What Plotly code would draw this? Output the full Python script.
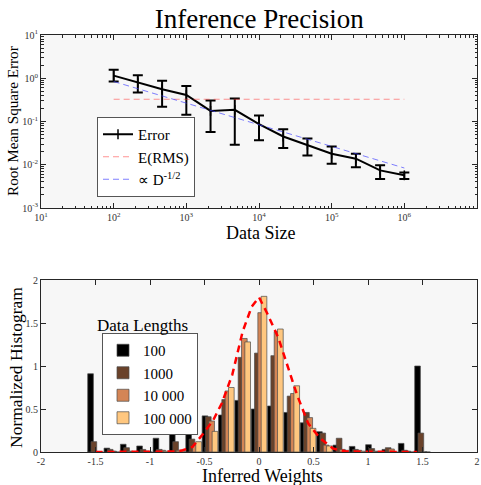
import plotly.graph_objects as go

# ---------------- Top panel data ----------------
data_size = [100, 215, 464, 1000, 2154, 4642, 10000, 21544, 46416,
             100000, 215443, 464159, 1000000]
rmse = [1.15, 0.79, 0.557, 0.41, 0.176, 0.186, 0.087, 0.045, 0.029,
        0.018, 0.0138, 0.0074, 0.0057]
rmse_hi = [1.58, 1.17, 0.87, 0.665, 0.305, 0.34, 0.138, 0.0665, 0.0407,
           0.0265, 0.018, 0.0097, 0.0066]
rmse_lo = [0.84, 0.47, 0.22, 0.143, 0.057, 0.029, 0.037, 0.0243, 0.0164,
           0.0105, 0.0087, 0.0047, 0.0047]
erms_x = [100, 1000000]
erms_y = [0.327, 0.327]
scaling_x = [100, 1000000]
scaling_y = [0.84, 0.0084]
log_tickvals = [10, 100, 1000, 10000, 100000, 1000000, 10000000]
log_ticktext = ["10<sup>1</sup>", "10<sup>2</sup>", "10<sup>3</sup>", "10<sup>4</sup>",
                "10<sup>5</sup>", "10<sup>6</sup>", "10<sup>7</sup>"]
ylog_tickvals = [0.001, 0.01, 0.1, 1, 10]
ylog_ticktext = ["10<sup>-3</sup>", "10<sup>-2</sup>", "10<sup>-1</sup>",
                 "10<sup>0</sup>", "10<sup>1</sup>"]

# ---------------- Bottom panel data ----------------
bin_centers = [-1.5, -1.35, -1.2, -1.05, -0.9, -0.75, -0.6, -0.45, -0.3, -0.15, 0.0,
               0.15, 0.3, 0.45, 0.6, 0.75, 0.9, 1.05, 1.2, 1.35, 1.5]
h_100 = [0.91, 0.045, 0.09, 0.07, 0.16, 0.26, 0.35, 0.42, 0.43, 0.60, 0.50,
         0.535, 0.46, 0.34, 0.236, 0.08, 0.065, 0.085, 0.03, 0.10, 1.00]
h_1000 = [0.12, 0.03, 0.05, 0.03, 0.03, 0.12, 0.15, 0.41, 0.61, 1.10, 1.15,
          1.12, 0.65, 0.46, 0.22, 0.16, 0.03, 0.04, 0.05, 0.02, 0.22]
h_10000 = [0.0, 0.01, 0.01, 0.01, 0.02, 0.02, 0.08, 0.36, 0.71, 1.32, 1.62,
           1.40, 0.68, 0.40, 0.08, 0.03, 0.02, 0.01, 0.035, 0.01, 0.0]
h_100000 = [0.0, 0.0, 0.0, 0.0, 0.01, 0.01, 0.12, 0.24, 0.75, 1.28, 1.81,
            1.43, 0.77, 0.275, 0.07, 0.02, 0.01, 0.0, 0.0, 0.0, 0.0]
series_names = ["100", "1000", "10 000", "100 000"]
series_colors = ["#000000", "#6a422a", "#d48555", "#ffc77f"]

curve_x = [-1.5, -0.9, -0.75, -0.7, -0.61, -0.52, -0.42, -0.34, -0.245, -0.15,
           -0.067, 0.0, 0.076, 0.177, 0.278, 0.35, 0.452, 0.56, 0.68, 0.8, 1.45]
curve_y = [0.0, 0.0, 0.005, 0.02, 0.06, 0.2, 0.37, 0.57, 0.9, 1.40,
           1.69, 1.80, 1.61, 1.33, 0.95, 0.66, 0.33, 0.16, 0.04, 0.005, 0.0]

FONT = "Liberation Serif"
AXC = "#262626"
ML, MR, MT, MB = 41, 4, 35, 33
W, H = 481, 485
PW, PH = W - ML - MR, H - MT - MB

BAR_W = 0.052
BAR_STEP = 0.0305
bar_offsets = [-0.0715 + i * BAR_STEP for i in range(4)]


def px(xp):
    return (xp - ML) / PW


def py(yp):
    return 1 - (yp - MT) / PH


fig = go.Figure()

# ---- top traces ----
fig.add_trace(go.Scatter(
    x=data_size, y=rmse, mode="lines+markers", name="Error",
    line=dict(color="black", width=2),
    marker=dict(symbol="line-ns", size=7, line=dict(width=1.5, color="black"), color="black"),
    error_y=dict(type="data", symmetric=False,
                 array=[h - v for h, v in zip(rmse_hi, rmse)],
                 arrayminus=[v - l for v, l in zip(rmse, rmse_lo)],
                 color="black", thickness=2, width=5),
    xaxis="x", yaxis="y", legend="legend"))
fig.add_trace(go.Scatter(
    x=erms_x, y=erms_y, mode="lines", name="E(RMS)",
    line=dict(color="rgba(255,60,60,0.55)", width=1, dash="6px,4px"),
    xaxis="x", yaxis="y", legend="legend"))
fig.add_trace(go.Scatter(
    x=scaling_x, y=scaling_y, mode="lines", name="\u221d D<sup>-1/2</sup>",
    line=dict(color="rgba(60,60,255,0.65)", width=1, dash="6px,4px"),
    xaxis="x", yaxis="y", legend="legend"))

# ---- bottom traces ----
for name, col, vals, off in zip(series_names, series_colors,
                                [h_100, h_1000, h_10000, h_100000], bar_offsets):
    fig.add_trace(go.Bar(
        x=bin_centers, y=vals, name=name, width=BAR_W, offset=off,
        marker=dict(color=col, line=dict(color="#4a4a4a", width=0.7)),
        xaxis="x2", yaxis="y2", legend="legend2"))
fig.add_trace(go.Scatter(
    x=curve_x, y=curve_y, mode="lines", showlegend=False,
    line=dict(color="#ff0000", width=2.5, dash="7px,5px"),
    xaxis="x2", yaxis="y2"))

common_axis = dict(showline=True, linecolor=AXC, linewidth=1, mirror="allticks",
                   ticks="inside", ticklen=5, tickcolor=AXC, showgrid=False,
                   zeroline=False, automargin=False,
                   tickfont=dict(family=FONT, size=10, color="#333"))


def ann(text, x, y, size, angle=0):
    return dict(text=text, x=px(x), y=py(y), xref="paper", yref="paper",
                xanchor="center", yanchor="middle", showarrow=False, textangle=angle,
                font=dict(family=FONT, size=size, color="black"))


fig.update_layout(
    width=W, height=H,
    margin=dict(l=ML, r=MR, t=MT, b=MB),
    paper_bgcolor="white", plot_bgcolor="#f7f7f7",
    font=dict(family=FONT, color="black"),
    barmode="overlay",
    title=dict(text="Inference Precision", x=0.539, xanchor="center",
               y=1 - 19 / H, yanchor="middle", yref="container",
               font=dict(family=FONT, size=27, color="black")),
    xaxis=dict(common_axis, type="log", range=[1, 7], domain=[0, 1], anchor="y",
               tickvals=log_tickvals, ticktext=log_ticktext,
               minor=dict(ticks="inside", ticklen=2.5, tickcolor=AXC,
                          tickvals=[m * 10 ** e for e in range(1, 7) for m in range(2, 10)])),
    yaxis=dict(common_axis, type="log", range=[-3, 1], domain=[py(208), 1], anchor="x",
               tickvals=ylog_tickvals, ticktext=ylog_ticktext,
               minor=dict(ticks="inside", ticklen=2.5, tickcolor=AXC,
                          tickvals=[m * 10 ** e for e in range(-3, 1) for m in range(2, 10)])),
    xaxis2=dict(common_axis, range=[-2, 2], domain=[0, 1], anchor="y2",
                tickvals=[-2, -1.5, -1, -0.5, 0, 0.5, 1, 1.5, 2],
                ticktext=["-2", "-1.5", "-1", "-0.5", "0", "0.5", "1", "1.5", "2"]),
    yaxis2=dict(common_axis, range=[0, 2], domain=[0, py(280)], anchor="x2",
                tickvals=[0, 0.5, 1, 1.5, 2], ticktext=["0", "0.5", "1", "1.5", "2"]),
    legend=dict(x=px(97), y=py(117), xanchor="left", yanchor="top",
                bgcolor="white", bordercolor="#555", borderwidth=1,
                font=dict(family=FONT, size=15, color="black"),
                tracegroupgap=0, itemwidth=30),
    legend2=dict(x=px(102), y=py(333), xanchor="left", yanchor="top",
                 bgcolor="white", bordercolor="#555", borderwidth=1,
                 font=dict(family=FONT, size=15, color="black"),
                 tracegroupgap=0, itemwidth=30, traceorder="normal"),
    annotations=[
        ann("Data Lengths", 142, 325, 17),
        ann("Data Size", 260, 233, 18),
        ann("Inferred Weights", 262, 476, 18),
        ann("Root Mean Square Error", 12, 121, 15.2, -90),
        ann("Normalized Histogram", 16, 368, 17.5, -90),
    ],
)

fig.write_html("out.html", post_script="document.body.style.margin='0px';",
               config={"displayModeBar": False})
